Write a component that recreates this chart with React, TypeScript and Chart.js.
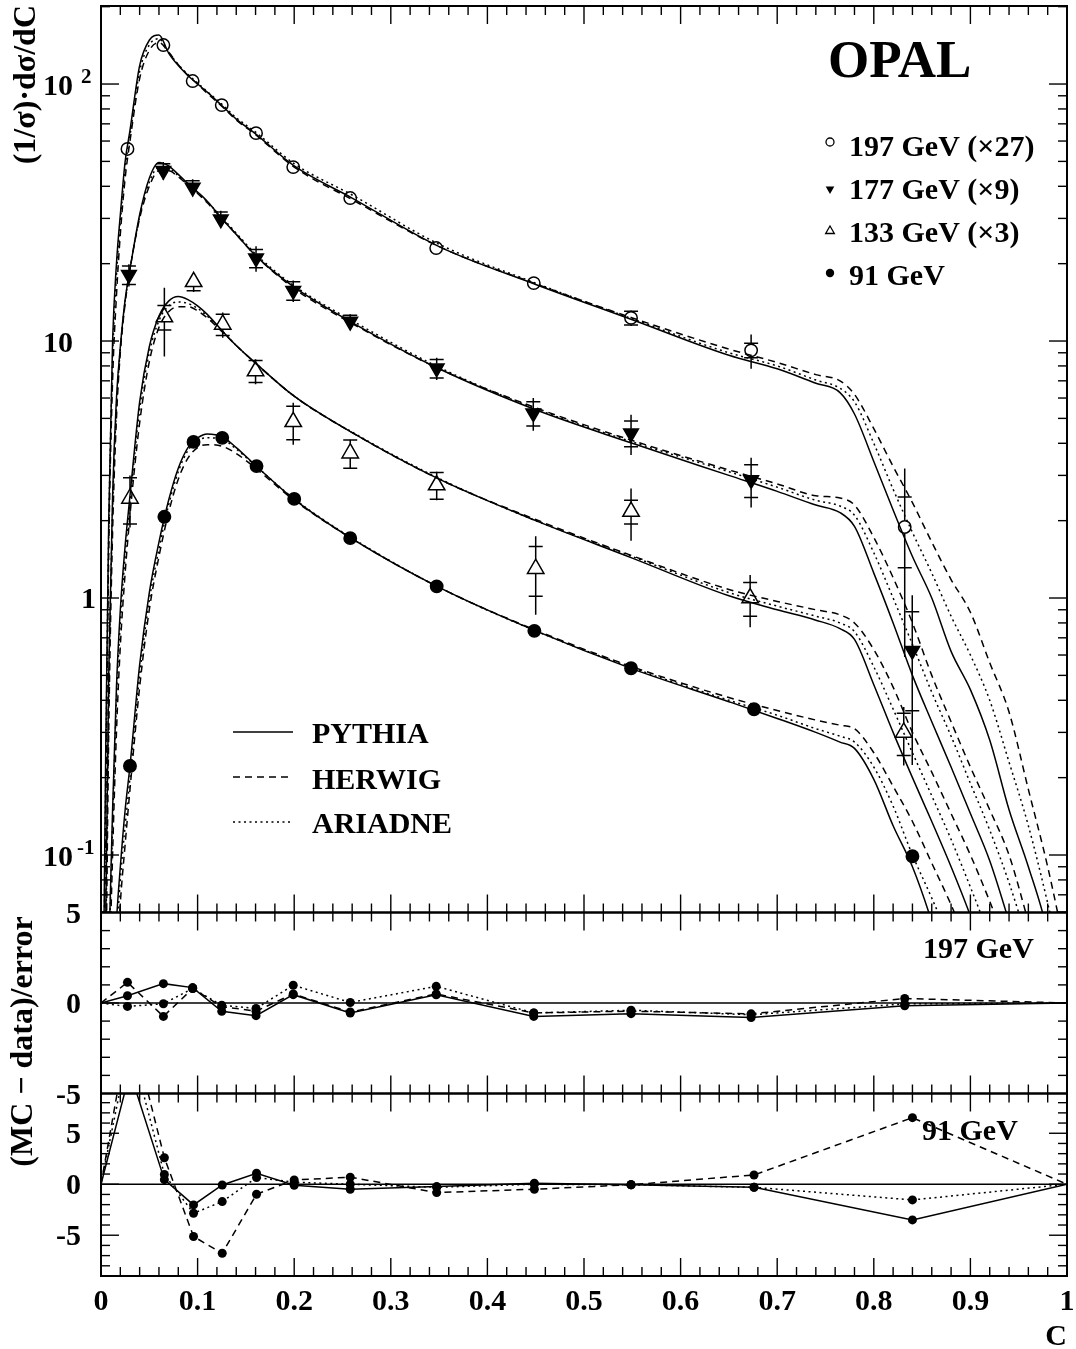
import React, { useEffect, useRef } from 'react';
import { Chart, registerables } from 'chart.js';

Chart.register(...registerables);

const FONT = '"Liberation Serif", "Times New Roman", serif';

// ---------------- DATA ----------------
// C grid of the Monte Carlo curves
const mcC = [0.002, 0.005, 0.008, 0.012, 0.016, 0.02, 0.025, 0.03, 0.04, 0.05, 0.06, 0.07, 0.08, 0.09, 0.1, 0.11, 0.125, 0.14, 0.16, 0.2, 0.26, 0.35, 0.45, 0.55, 0.65, 0.7, 0.74, 0.765, 0.78, 0.8, 0.82, 0.84, 0.86, 0.88, 0.9, 0.92, 0.94, 0.96, 0.98, 1.0];

// 197 GeV (x27)
const P197 = [0.02, 0.28, 2.0, 10, 20, 31, 50, 66, 118, 148, 155, 132, 118, 108, 100, 93, 82.5, 73, 64, 48, 36, 23.3, 16.6, 12.1, 8.8, 7.8, 6.85, 6.3, 5.2, 3.4, 2.2, 1.45, 1.0, 0.62, 0.44, 0.28, 0.15, 0.09, 0.05, 0.02];
const H197 = [0.01, 0.15, 1.5, 7, 15, 26, 43, 60, 105, 135, 145, 133, 119, 108, 100, 92, 82, 72.5, 63.5, 47.5, 35.5, 23.3, 16.7, 12.3, 9.3, 8.25, 7.4, 7.0, 6.2, 4.56, 3.25, 2.35, 1.65, 1.18, 0.88, 0.56, 0.36, 0.18, 0.09, 0.04];
const A197 = [0.015, 0.22, 1.8, 8.5, 18, 29, 47, 63, 112, 142, 150, 133, 119, 109, 101, 93.5, 83.5, 74, 65, 49, 37, 23.8, 16.8, 12.2, 9.0, 8.0, 7.05, 6.55, 5.8, 4.0, 2.65, 1.8, 1.25, 0.85, 0.6, 0.4, 0.23, 0.13, 0.065, 0.03];
// 177 GeV (x9)
const P177 = [0.005, 0.06, 0.5, 2.5, 6, 9.5, 14.5, 19, 31, 43, 49.5, 48, 44.5, 41, 38, 35, 30, 26, 21.5, 16.2, 11.8, 7.8, 5.4, 4.0, 3.0, 2.6, 2.3, 2.15, 1.9, 1.25, 0.8, 0.5, 0.33, 0.22, 0.145, 0.095, 0.055, 0.03, 0.015, 0.006];
const H177 = [0.003, 0.03, 0.3, 1.8, 5, 9, 14, 19, 30, 40, 46, 46, 43.5, 40.5, 37.5, 34.5, 30, 26, 21.5, 16, 11.7, 7.8, 5.5, 4.1, 3.15, 2.78, 2.5, 2.45, 2.3, 1.72, 1.2, 0.8, 0.5, 0.33, 0.22, 0.15, 0.1, 0.055, 0.03, 0.015];
const A177 = [0.004, 0.045, 0.4, 2.2, 5.5, 9.3, 14.3, 19, 30.5, 41.5, 47.5, 47, 44, 40.8, 37.8, 34.8, 30.3, 26.3, 21.8, 16.4, 12.0, 7.9, 5.45, 4.05, 3.1, 2.7, 2.4, 2.28, 2.1, 1.5, 1.0, 0.66, 0.43, 0.29, 0.19, 0.125, 0.078, 0.045, 0.025, 0.01];
// 133 GeV (x3)
const P133 = [0.001, 0.01, 0.04, 0.15, 0.45, 0.9, 1.6, 2.5, 5.8, 9.5, 12.5, 14.3, 14.9, 14.5, 13.7, 12.7, 11.0, 9.6, 8.2, 6.1, 4.4, 2.9, 2.0, 1.43, 1.02, 0.9, 0.82, 0.76, 0.69, 0.46, 0.3, 0.2, 0.135, 0.09, 0.058, 0.035, 0.02, 0.01, 0.005, 0.002];
const H133 = [0.0005, 0.005, 0.025, 0.1, 0.3, 0.65, 1.25, 2.1, 4.8, 8.3, 11.3, 13.0, 13.6, 13.6, 13.1, 12.3, 10.9, 9.6, 8.2, 6.1, 4.4, 2.9, 2.02, 1.46, 1.08, 0.97, 0.9, 0.86, 0.8, 0.63, 0.45, 0.3, 0.21, 0.145, 0.1, 0.066, 0.042, 0.025, 0.014, 0.007];
const A133 = [0.0008, 0.008, 0.035, 0.13, 0.4, 0.8, 1.45, 2.35, 5.4, 9.0, 12.0, 13.7, 14.2, 14.0, 13.4, 12.5, 11.0, 9.6, 8.2, 6.1, 4.42, 2.92, 2.0, 1.45, 1.05, 0.93, 0.85, 0.8, 0.74, 0.54, 0.37, 0.25, 0.17, 0.115, 0.075, 0.048, 0.03, 0.017, 0.009, 0.004];
// 91 GeV
const P91 = [0.0001, 0.001, 0.005, 0.025, 0.055, 0.09, 0.15, 0.222, 0.55, 1.05, 1.65, 2.4, 3.2, 3.85, 4.2, 4.35, 4.25, 3.85, 3.28, 2.42, 1.7, 1.1, 0.745, 0.53, 0.395, 0.34, 0.3, 0.275, 0.26, 0.197, 0.13, 0.09, 0.055, 0.03, 0.015, 0.008, 0.004, 0.002, 0.001, 0.0005];
const H91 = [0.00005, 0.0005, 0.002, 0.012, 0.035, 0.065, 0.11, 0.18, 0.45, 0.9, 1.45, 2.15, 2.9, 3.5, 3.85, 3.95, 3.9, 3.65, 3.2, 2.4, 1.7, 1.1, 0.75, 0.54, 0.41, 0.365, 0.335, 0.32, 0.31, 0.25, 0.185, 0.135, 0.093, 0.064, 0.042, 0.027, 0.016, 0.009, 0.005, 0.002];
const A91 = [0.00008, 0.0008, 0.003, 0.018, 0.045, 0.08, 0.13, 0.2, 0.5, 0.98, 1.55, 2.3, 3.1, 3.75, 4.1, 4.2, 4.15, 3.8, 3.27, 2.43, 1.71, 1.1, 0.745, 0.535, 0.4, 0.35, 0.31, 0.29, 0.275, 0.22, 0.155, 0.1, 0.068, 0.045, 0.028, 0.016, 0.009, 0.005, 0.002, 0.001];

// measured points: C, value, statistical error, total error
const c197 = [0.0274, 0.0646, 0.0949, 0.125, 0.1605, 0.199, 0.258, 0.347, 0.448, 0.5487, 0.673, 0.832];
const v197 = [55.9, 141.8, 102.7, 82.8, 64.4, 47.5, 36.0, 23.0, 16.8, 12.3, 9.2, 1.89];
const s197 = [0.8, 1.8, 1.3, 1.0, 0.8, 0.6, 0.5, 0.35, 0.3, 0.75, 0.6, 0.58];
const t197 = [1.5, 3.0, 2.2, 1.7, 1.3, 1.0, 0.8, 0.6, 0.5, 0.85, 1.4, 1.3];

const c177 = [0.0289, 0.0645, 0.0949, 0.124, 0.1605, 0.199, 0.258, 0.3475, 0.4475, 0.5487, 0.673, 0.8398];
const v177 = [18.1, 46.0, 39.6, 29.8, 21.0, 15.7, 11.9, 7.83, 5.24, 4.38, 2.88, 0.624];
const s177 = [1.5, 3.0, 2.4, 2.0, 1.7, 1.3, 0.7, 0.65, 0.57, 0.5, 0.42, 0.26];
const t177 = [1.8, 3.7, 3.0, 2.3, 2.4, 1.5, 0.8, 0.78, 0.76, 0.78, 0.63, 0.4];

const c133 = [0.03, 0.0656, 0.0959, 0.126, 0.16, 0.199, 0.258, 0.3475, 0.45, 0.5487, 0.672, 0.831];
const v133 = [2.44, 12.4, 17.0, 11.6, 7.64, 4.85, 3.66, 2.75, 1.3, 2.17, 1.0, 0.3];
const s133 = [0.5, 1.35, 1.3, 1.1, 0.75, 0.72, 0.46, 0.33, 0.285, 0.23, 0.15, 0.056];
const t133 = [0.56, 3.7, 1.5, 1.3, 0.85, 0.9, 0.47, 0.35, 0.44, 0.5, 0.23, 0.077];

const c91 = [0.03, 0.0656, 0.0958, 0.1255, 0.161, 0.2, 0.258, 0.3475, 0.4486, 0.5487, 0.676, 0.84];
const v91 = [0.222, 2.07, 4.05, 4.2, 3.26, 2.43, 1.71, 1.11, 0.745, 0.533, 0.369, 0.0989];
const s91 = [0.003, 0.01, 0.015, 0.015, 0.012, 0.01, 0.006, 0.004, 0.003, 0.002, 0.002, 0.002];
const t91 = [0.006, 0.03, 0.05, 0.05, 0.04, 0.03, 0.02, 0.012, 0.008, 0.006, 0.005, 0.003];

// (MC - data)/error, 197 GeV
const rC197 = [0, 0.0274, 0.0646, 0.0949, 0.125, 0.1605, 0.199, 0.258, 0.347, 0.448, 0.5487, 0.673, 0.832, 1];
const rP197 = [0, 0.4, 1.07, 0.85, -0.46, -0.7, 0.46, -0.55, 0.45, -0.74, -0.59, -0.8, -0.15, 0];
const rH197 = [0, 1.14, -0.74, 0.8, -0.2, -0.45, 0.5, -0.5, 0.5, -0.55, -0.45, -0.6, 0.25, 0];
const rA197 = [0, -0.19, -0.04, 0.8, -0.12, -0.3, 0.98, 0.03, 0.92, -0.55, -0.4, -0.65, -0.05, 0];
// (MC - data)/error, 91 GeV
const rC91 = [0, 0.03, 0.0656, 0.0958, 0.1255, 0.161, 0.2, 0.258, 0.3475, 0.4486, 0.5487, 0.676, 0.84, 1];
const rP91 = [0, 11, 0.45, -2.03, -0.07, 1.08, -0.1, -0.49, -0.23, 0.1, -0.05, -0.3, -3.5, 0];
const rH91 = [0, 16, 2.6, -5.13, -6.77, -0.98, 0.42, 0.69, -0.82, -0.49, -0.05, 0.91, 6.53, 0];
const rA91 = [0, 14, 0.95, -2.85, -1.7, 0.65, 0.2, 0.0, -0.3, 0.0, -0.05, -0.3, -1.54, 0];

// labels
const xTickLabels = ['0', '0.1', '0.2', '0.3', '0.4', '0.5', '0.6', '0.7', '0.8', '0.9', '1'];
const logTickValues = [100, 10, 1, 0.1];
const logTickMain = ['10', '10', '1', '10'];
const logTickExp = ['2', '', '', '-1'];
const ratioTickValues = [5, 0, -5];
const ratioTickLabels = ['5', '0', '-5'];
const energyLabels = ['197 GeV (\u00d727)', '177 GeV (\u00d79)', '133 GeV (\u00d73)', '91 GeV'];
const mcNames = ['PYTHIA', 'HERWIG', 'ARIADNE'];

// ---------------- LAYOUT / STYLE ----------------
const W = 1076;
const H = 1349;
const LEFT = 101;
const RIGHT = 1067;
const P1_TOP = 6;
const P1_BOT = 912.5;
const P2_BOT = 1093.5;
const P3_BOT = 1276;
const DASHES: number[][] = [[], [7, 5], [2, 3.5]];

function seg(ctx: CanvasRenderingContext2D, x1: number, y1: number, x2: number, y2: number) {
  ctx.beginPath();
  ctx.moveTo(x1, y1);
  ctx.lineTo(x2, y2);
  ctx.stroke();
}

function tri(ctx: CanvasRenderingContext2D, x: number, y: number, r: number, down: boolean, fill: boolean) {
  const s = down ? -1 : 1;
  ctx.beginPath();
  ctx.moveTo(x, y - s * r);
  ctx.lineTo(x + r * 0.866, y + (s * r) / 2);
  ctx.lineTo(x - r * 0.866, y + (s * r) / 2);
  ctx.closePath();
  if (fill) ctx.fill();
  else ctx.stroke();
}

function frameAndXTicks(chart: any) {
  const { ctx, chartArea: a, scales } = chart;
  const x = scales.x;
  ctx.save();
  ctx.strokeStyle = '#000';
  ctx.lineWidth = 1.4;
  ctx.setLineDash([]);
  for (let i = 1; i < 50; i++) {
    const px = x.getPixelForValue(i / 50);
    const L = i % 5 === 0 ? 18 : 9;
    seg(ctx, px, a.top, px, a.top + L);
    seg(ctx, px, a.bottom, px, a.bottom - L);
  }
  ctx.lineWidth = 2;
  ctx.strokeRect(a.left, a.top, a.right - a.left, a.bottom - a.top);
  ctx.restore();
}

function linYTicks(chart: any) {
  const { ctx, chartArea: a, scales } = chart;
  const y = scales.y;
  ctx.save();
  ctx.strokeStyle = '#000';
  ctx.lineWidth = 1.4;
  for (let v = Math.ceil(y.min); v <= Math.floor(y.max); v++) {
    const py = y.getPixelForValue(v);
    if (Math.abs(py - a.top) < 1.5 || Math.abs(py - a.bottom) < 1.5) continue;
    const L = v % 5 === 0 ? 18 : 9;
    seg(ctx, a.left, py, a.left + L, py);
    seg(ctx, a.right, py, a.right - L, py);
  }
  const y0 = y.getPixelForValue(0);
  ctx.lineWidth = 1.5;
  seg(ctx, a.left, y0, a.right, y0);
  ctx.fillStyle = '#000';
  ctx.font = `bold 30px ${FONT}`;
  ctx.textAlign = 'right';
  ctx.textBaseline = 'alphabetic';
  ratioTickValues.forEach((v, i) => {
    if (v > y.max + 0.01 || v < y.min - 0.01) return;
    const py = y.getPixelForValue(v);
    ctx.fillText(ratioTickLabels[i], 81, py + 10);
  });
  ctx.restore();
}

const errSeries = [
  { c: c197, v: v197, s: s197, t: t197, up: 6.8, dn: 6.8 },
  { c: c177, v: v177, s: s177, t: t177, up: 4.5, dn: 8.5 },
  { c: c133, v: v133, s: s133, t: t133, up: 9.5, dn: 4.8 },
  { c: c91, v: v91, s: s91, t: t91, up: 6.8, dn: 6.8 },
];

const topPlugin = {
  id: 'topDecor',
  afterDatasetsDraw(chart: any) {
    const { ctx, chartArea: a, scales } = chart;
    const xs = scales.x;
    const ys = scales.y;
    ctx.save();
    ctx.beginPath();
    ctx.rect(a.left, a.top, a.right - a.left, a.bottom - a.top);
    ctx.clip();
    ctx.strokeStyle = '#000';
    ctx.lineWidth = 1.5;
    ctx.setLineDash([]);
    for (const sr of errSeries) {
      sr.c.forEach((c, i) => {
        const v = sr.v[i];
        const px = xs.getPixelForValue(c);
        const py = ys.getPixelForValue(v);
        const tHi = ys.getPixelForValue(v + sr.t[i]);
        const tLo = ys.getPixelForValue(Math.max(v - sr.t[i], 1e-4));
        const sHi = ys.getPixelForValue(v + sr.s[i]);
        const sLo = ys.getPixelForValue(Math.max(v - sr.s[i], 1e-4));
        if (tHi < py - sr.up) seg(ctx, px, tHi, px, py - sr.up);
        if (tLo > py + sr.dn) seg(ctx, px, py + sr.dn, px, tLo);
        if (sHi < py - sr.up + 0.5) seg(ctx, px - 7, sHi, px + 7, sHi);
        if (sLo > py + sr.dn - 0.5) seg(ctx, px - 7, sLo, px + 7, sLo);
      });
    }
    ctx.restore();
  },
  afterDraw(chart: any) {
    const { ctx, chartArea: a, scales } = chart;
    const y = scales.y;
    frameAndXTicks(chart);
    ctx.save();
    ctx.strokeStyle = '#000';
    ctx.fillStyle = '#000';
    ctx.lineWidth = 1.4;
    for (let e = -2; e <= 2; e++) {
      for (let m = 1; m <= 9; m++) {
        const v = m * Math.pow(10, e);
        if (v < y.min || v > y.max) continue;
        const py = y.getPixelForValue(v);
        const L = m === 1 ? 18 : 9;
        seg(ctx, a.left, py, a.left + L, py);
        seg(ctx, a.right, py, a.right - L, py);
      }
    }
    ctx.textBaseline = 'alphabetic';
    logTickValues.forEach((v, i) => {
      const py = y.getPixelForValue(v);
      ctx.font = `bold 30px ${FONT}`;
      ctx.textAlign = 'right';
      if (logTickExp[i] === '' && logTickMain[i] === '1') {
        ctx.fillText(logTickMain[i], 96, py + 10);
      } else {
        ctx.fillText(logTickMain[i], 73, py + 11);
      }
      if (logTickExp[i]) {
        ctx.font = `bold 21px ${FONT}`;
        ctx.textAlign = 'left';
        ctx.fillText(logTickExp[i], logTickExp[i].length > 1 ? 77 : 81, py - 1);
      }
    });
    ctx.save();
    ctx.translate(35, 5);
    ctx.rotate(-Math.PI / 2);
    ctx.font = `bold 32px ${FONT}`;
    ctx.textAlign = 'right';
    ctx.textBaseline = 'alphabetic';
    ctx.fillText('(1/\u03c3)\u00b7d\u03c3/dC', 0, 0);
    ctx.restore();
    ctx.font = `bold 53px ${FONT}`;
    ctx.textAlign = 'left';
    ctx.fillText('OPAL', 828, 77);
    ctx.font = `bold 30px ${FONT}`;
    const baseY = [156, 199, 242, 285];
    const mkY = [142, 188, 230, 273];
    energyLabels.forEach((lab, i) => ctx.fillText(lab, 849, baseY[i]));
    ctx.lineWidth = 1.3;
    ctx.beginPath();
    ctx.arc(830, mkY[0], 4, 0, Math.PI * 2);
    ctx.stroke();
    tri(ctx, 830, mkY[1] + 1, 5, true, true);
    tri(ctx, 830, mkY[2] + 1, 5, false, false);
    ctx.beginPath();
    ctx.arc(830, mkY[3], 4.2, 0, Math.PI * 2);
    ctx.fill();
    const lineY = [732, 777, 822];
    const txtY = [743, 789, 833];
    mcNames.forEach((n, i) => {
      ctx.lineWidth = 1.5;
      ctx.setLineDash(DASHES[i]);
      seg(ctx, 233, lineY[i], 293, lineY[i]);
      ctx.setLineDash([]);
      ctx.fillText(n, 312, txtY[i]);
    });
    ctx.restore();
  },
};

const midPlugin = {
  id: 'midDecor',
  afterDraw(chart: any) {
    frameAndXTicks(chart);
    linYTicks(chart);
    const { ctx } = chart;
    ctx.save();
    ctx.fillStyle = '#000';
    ctx.font = `bold 30px ${FONT}`;
    ctx.textAlign = 'left';
    ctx.textBaseline = 'alphabetic';
    ctx.fillText('197 GeV', 923, 958);
    ctx.restore();
  },
};

const botPlugin = {
  id: 'botDecor',
  afterDraw(chart: any) {
    frameAndXTicks(chart);
    linYTicks(chart);
    const { ctx, scales } = chart;
    const x = scales.x;
    ctx.save();
    ctx.fillStyle = '#000';
    ctx.font = `bold 30px ${FONT}`;
    ctx.textBaseline = 'alphabetic';
    ctx.textAlign = 'left';
    ctx.fillText('91 GeV', 922, 1140);
    ctx.textAlign = 'center';
    xTickLabels.forEach((lab) => {
      ctx.fillText(lab, x.getPixelForValue(parseFloat(lab)), 1310);
    });
    ctx.textAlign = 'right';
    ctx.fillText('C', 1067, 1345);
    ctx.save();
    ctx.translate(32, 1041.5);
    ctx.rotate(-Math.PI / 2);
    ctx.font = `bold 32px ${FONT}`;
    ctx.textAlign = 'center';
    ctx.fillText('(MC \u2212 data)/error', 0, 0);
    ctx.restore();
    ctx.restore();
  },
};

function baseOptions(top: number, bottom: number, yScale: any) {
  return {
    responsive: false,
    animation: false as const,
    events: [] as any[],
    layout: { autoPadding: false, padding: { left: LEFT, right: W - RIGHT, top, bottom: H - bottom } },
    plugins: { legend: { display: false }, tooltip: { enabled: false } },
    scales: {
      x: { type: 'linear', min: 0, max: 1, display: false },
      y: { ...yScale, display: false },
    },
  };
}

function curve(vals: number[], k: number) {
  return {
    data: mcC.map((c, i) => ({ x: c, y: vals[i] })),
    borderColor: '#000',
    borderWidth: 1.5,
    borderDash: DASHES[k],
    pointRadius: 0,
    cubicInterpolationMode: 'monotone',
    fill: false,
  };
}

function markers(c: number[], v: number[], shape: string, r: number, rot: number, filled: boolean) {
  return {
    data: c.map((x, i) => ({ x, y: v[i] })),
    showLine: false,
    pointStyle: shape,
    pointRadius: r,
    pointRotation: rot,
    pointBorderWidth: 1.5,
    pointBorderColor: '#000',
    pointBackgroundColor: filled ? '#000' : 'rgba(0,0,0,0)',
  };
}

function ratioSet(c: number[], v: number[], k: number) {
  return {
    data: c.map((x, i) => ({ x, y: v[i] })),
    borderColor: '#000',
    borderWidth: 1.5,
    borderDash: DASHES[k],
    tension: 0,
    pointRadius: c.map((_, i) => (i === 0 || i === c.length - 1 ? 0 : 4.5)),
    pointBackgroundColor: '#000',
    pointBorderColor: '#000',
    pointBorderWidth: 0,
    fill: false,
  };
}

export default function App() {
  const r1 = useRef<HTMLCanvasElement>(null);
  const r2 = useRef<HTMLCanvasElement>(null);
  const r3 = useRef<HTMLCanvasElement>(null);

  useEffect(() => {
    const top = new Chart(r1.current as HTMLCanvasElement, {
      type: 'line',
      data: {
        datasets: [
          curve(P197, 0), curve(H197, 1), curve(A197, 2),
          curve(P177, 0), curve(H177, 1), curve(A177, 2),
          curve(P133, 0), curve(H133, 1), curve(A133, 2),
          curve(P91, 0), curve(H91, 1), curve(A91, 2),
          markers(c197, v197, 'circle', 6.2, 0, false),
          markers(c177, v177, 'triangle', 8.5, 180, true),
          markers(c133, v133, 'triangle', 9.5, 0, false),
          markers(c91, v91, 'circle', 6.2, 0, true),
        ] as any,
      },
      options: baseOptions(P1_TOP, P1_BOT, { type: 'logarithmic', min: 0.05974, max: 201.2 }) as any,
      plugins: [topPlugin],
    });
    const mid = new Chart(r2.current as HTMLCanvasElement, {
      type: 'line',
      data: {
        datasets: [ratioSet(rC197, rP197, 0), ratioSet(rC197, rH197, 1), ratioSet(rC197, rA197, 2)] as any,
      },
      options: baseOptions(P1_BOT, P2_BOT, { type: 'linear', min: -5, max: 5 }) as any,
      plugins: [midPlugin],
    });
    const bot = new Chart(r3.current as HTMLCanvasElement, {
      type: 'line',
      data: {
        datasets: [ratioSet(rC91, rP91, 0), ratioSet(rC91, rH91, 1), ratioSet(rC91, rA91, 2)] as any,
      },
      options: baseOptions(P2_BOT, P3_BOT, { type: 'linear', min: -9, max: 8.9 }) as any,
      plugins: [botPlugin],
    });
    return () => {
      top.destroy();
      mid.destroy();
      bot.destroy();
    };
  }, []);

  const cs: React.CSSProperties = { position: 'absolute', left: 0, top: 0 };
  return (
    <div style={{ position: 'absolute', left: 0, top: 0, width: W, height: H, background: '#fff' }}>
      <canvas ref={r1} width={W} height={H} style={cs} />
      <canvas ref={r2} width={W} height={H} style={cs} />
      <canvas ref={r3} width={W} height={H} style={cs} />
    </div>
  );
}
